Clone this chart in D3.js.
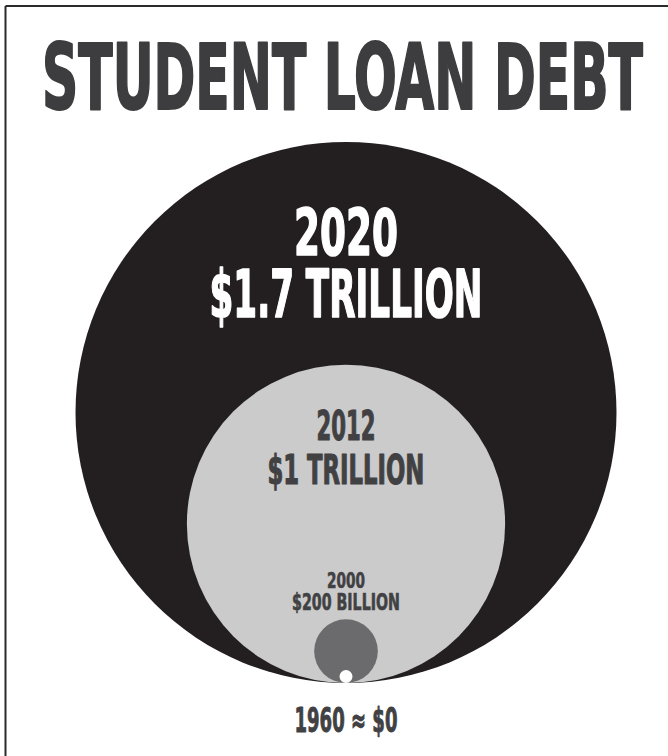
<!DOCTYPE html>
<html>
<head>
<meta charset="utf-8">
<script src="https://cdn.jsdelivr.net/npm/d3@7/dist/d3.min.js"></script>
<style>
  html, body { margin: 0; padding: 0; background: #fff; }
  svg { display: block; }
  text { font-family: "DejaVu Sans Condensed", "Liberation Sans Narrow", "Liberation Sans", sans-serif; font-weight: bold; }
</style>
</head>
<body>
<svg id="chart" width="668" height="756"></svg>
<script>
// Outstanding student loan debt, in trillions of dollars
const years = ["2020", "2012", "2000", "1960"];
const debtTrillions = [1.7, 1.0, 0.2, 0];
const amountLabels = ["$1.7 TRILLION", "$1 TRILLION", "$200 BILLION", "$0"];
const fills = ["#231f20", "#cbcbcc", "#6b6b6d", "#ffffff"];

const W = 668, H = 756;
const svg = d3.select("#chart");

// frame: only the top and left edges fall inside the page
svg.append("line").attr("x1", 5.5).attr("y1", 6).attr("x2", W).attr("y2", 6)
  .attr("stroke", "#2b2b2b").attr("stroke-width", 2);
svg.append("line").attr("x1", 5.5).attr("y1", 6).attr("x2", 5.5).attr("y2", H)
  .attr("stroke", "#2b2b2b").attr("stroke-width", 2);

// condensed display text: set at a size for its height, then squeezed to a width
function label(txt, cxText, baseline, size, width, color, sw) {
  const t = svg.append("text")
    .attr("x", 0).attr("y", 0)
    .attr("font-size", size)
    .attr("fill", color)
    .attr("stroke", color).attr("stroke-width", sw)
    .attr("stroke-linejoin", "round")
    .text(txt);
  const natural = t.node().getComputedTextLength();
  const sx = width / natural;
  t.attr("transform", `translate(${cxText - width / 2},${baseline}) scale(${sx},1)`);
  return t;
}

// title
label("STUDENT LOAN DEBT", 342.5, 109, 90, 601, "#3d3d3f", 2);

// radius is linear in the amount; all circles sit on a common base line
const cx = 346, baseY = 683;
const r = d3.scaleLinear().domain([0, 1.7]).range([0, 270.5]);
const minMarker = 6.5; // the near-zero 1960 value still gets a visible dot

const rows = years.map((y, i) => ({ year: y, value: debtTrillions[i], label: amountLabels[i], fill: fills[i] }));

svg.append("g").selectAll("circle")
  .data(rows)
  .join("circle")
  .attr("cx", cx)
  .attr("cy", d => baseY - Math.max(r(d.value), minMarker))
  .attr("r", d => Math.max(r(d.value), minMarker))
  .attr("fill", d => d.fill);

// labels inside each circle
label(rows[0].year, cx, 255, 64, 104, "#ffffff", 1.6);
label(rows[0].label, cx, 317, 66, 273, "#ffffff", 1.6);
label(rows[1].year, cx, 440, 41, 59, "#414143", 1.1);
label(rows[1].label, cx, 484, 41, 157, "#414143", 1.1);
label(rows[2].year, cx, 588, 22, 38, "#414143", 0.6);
label(rows[2].label, cx, 610, 23, 108, "#414143", 0.6);
label(rows[3].year + " \u2248 " + rows[3].label, cx, 732, 34, 103, "#414143", 0.9);
</script>
</body>
</html>
